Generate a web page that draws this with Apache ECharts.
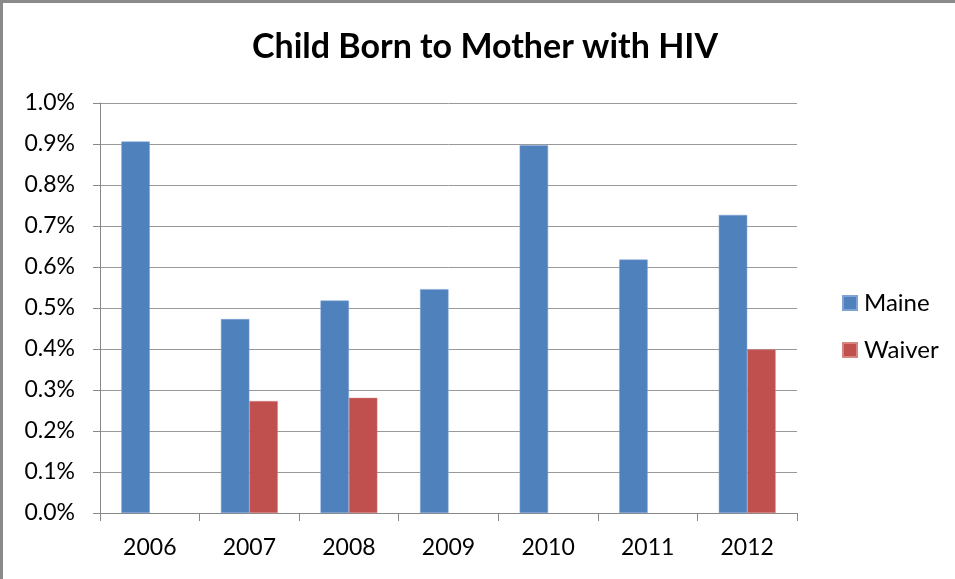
<!DOCTYPE html>
<html><head><meta charset="utf-8">
<script src="https://cdn.jsdelivr.net/npm/echarts@6/dist/echarts.min.js"></script>
<style>
html,body{margin:0;padding:0;background:#fff;}
#frame{position:absolute;left:0;top:0;width:955px;height:579px;box-sizing:border-box;border-top:3px solid #8a8a8a;border-left:3px solid #8a8a8a;}
#c{position:absolute;left:0;top:0;width:955px;height:579px;}
</style></head>
<body>
<div id="c"></div>
<div id="frame" style="pointer-events:none"></div>
<script>
const categories = ['2006','2007','2008','2009','2010','2011','2012'];
const maine = [0.906, 0.473, 0.518, 0.546, 0.897, 0.618, 0.727];
const waiver = [null, 0.273, 0.281, null, null, null, 0.399];
const yTicks = [0,0.1,0.2,0.3,0.4,0.5,0.6,0.7,0.8,0.9,1.0];

const chart = echarts.init(document.getElementById('c'));
const font = 'Lato, "Open Sans", sans-serif';
chart.setOption({
  animation:false,
  title:{text:'Child Born to Mother with HIV',left:485,top:30,textAlign:'center',padding:0,
    textStyle:{fontFamily:font,fontSize:34,fontWeight:'bold',color:'#000'}},
  legend:{orient:'vertical',left:842,top:291,padding:0,itemWidth:14,itemHeight:14,itemGap:23,
    icon:'rect',textStyle:{fontFamily:font,fontSize:24,color:'#000',padding:[0,0,0,2]},
    data:['Maine','Waiver']},
  grid:{left:100,top:103,width:697,height:410,containLabel:false},
  xAxis:{type:'category',data:categories,
    axisLine:{lineStyle:{color:'#888',width:1}},
    axisTick:{show:true,alignWithLabel:false,length:8,lineStyle:{color:'#888'}},
    axisLabel:{fontFamily:font,fontSize:23,color:'#000',margin:23}},
  yAxis:{type:'value',min:0,max:1.0,interval:0.1,
    axisLine:{show:true,lineStyle:{color:'#888'}},
    axisTick:{show:true,inside:false,length:7,lineStyle:{color:'#888'}},
    splitLine:{lineStyle:{color:'#999',width:1}},
    axisLabel:{fontFamily:font,fontSize:23,color:'#000',margin:25,
      formatter:v=>{const t=yTicks.find(x=>Math.abs(x-v)<1e-9);return (t!==undefined?t:v).toFixed(1)+'%';}}},
  series:[
    {name:'Maine',type:'bar',data:maine,barGap:'0%',barCategoryGap:'42.9%',
      itemStyle:{color:'#4F81BD',borderColor:'#7FA3D4',borderWidth:0.5}},
    {name:'Waiver',type:'bar',data:waiver,
      itemStyle:{color:'#C0504D',borderColor:'#D88582',borderWidth:0.5}}
  ]
});
</script>
</body></html>
